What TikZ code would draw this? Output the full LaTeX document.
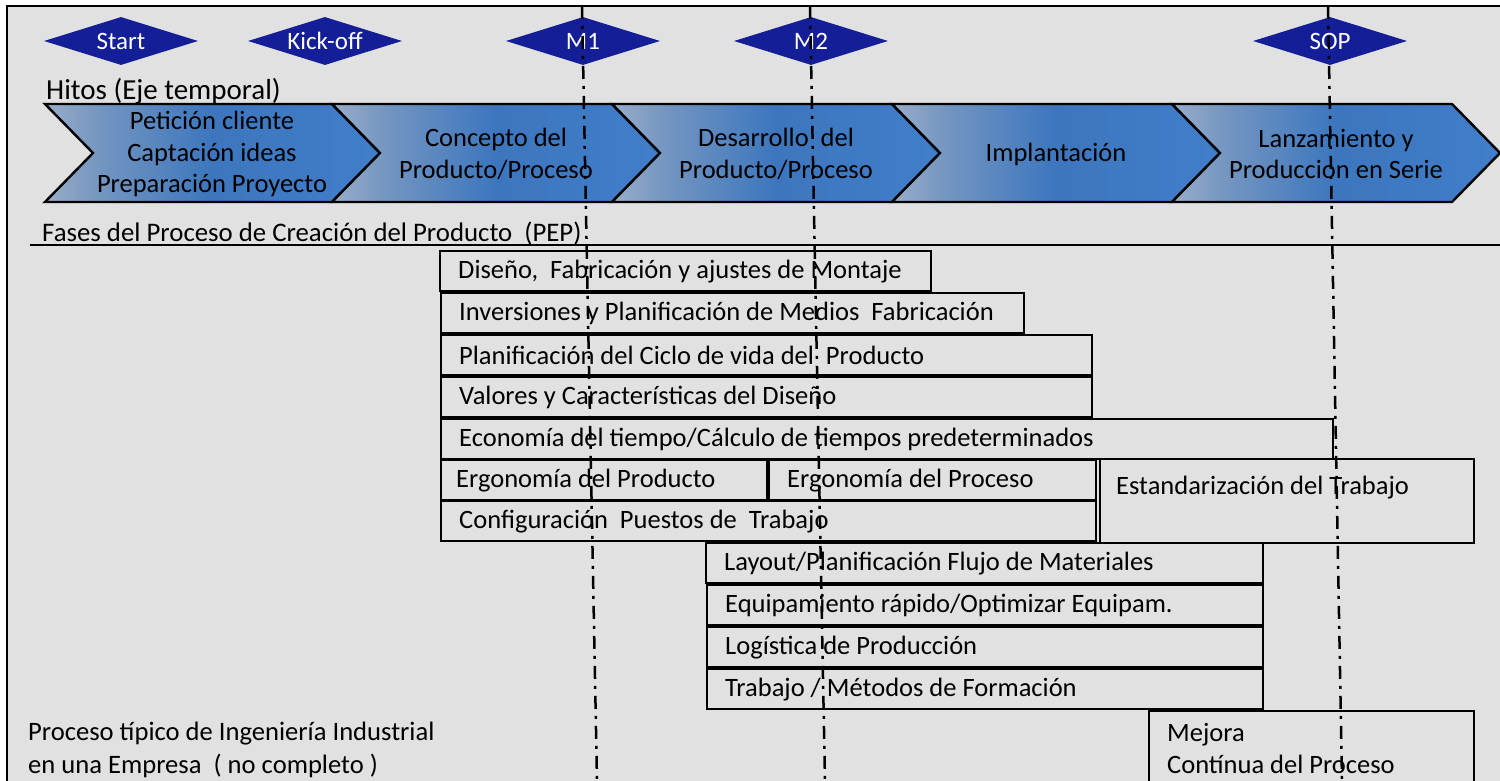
\documentclass[tikz,border=0pt]{standalone}
\usepackage{fontspec}
\setmainfont{Carlito}
\usetikzlibrary{shapes.geometric}
\definecolor{fondo}{RGB}{225,225,225}
\definecolor{hitoazul}{RGB}{20,30,150}
\definecolor{faseclaro}{RGB}{224,226,230}
\definecolor{faseclaro2}{RGB}{216,220,226}
\definecolor{fasegris}{RGB}{176,188,206}
\definecolor{fasegris2}{RGB}{116,150,192}
\definecolor{fasemedio}{RGB}{60,118,190}
\definecolor{faseder}{RGB}{70,134,214}
\pgfdeclarehorizontalshading{fase}{100bp}{color(0bp)=(faseclaro); color(8bp)=(faseclaro2); color(20bp)=(fasegris); color(33bp)=(fasegris2); color(50bp)=(fasemedio); color(100bp)=(faseder)}
\newcommand{\tareatxt}[1]{\mbox{\spaceskip=0pt\xspaceskip=0pt\relax #1}}

\begin{document}
\begin{tikzpicture}[x=1pt,y=-1pt,
    font=\fontsize{26.5}{31.5}\selectfont,
    hito/.style={diamond,fill=hitoazul,text=white,aspect=3.2,inner sep=0pt,%
      minimum width=154pt,minimum height=48pt,font=\fontsize{25}{30}\selectfont},
    fase/.style={align=center,inner sep=0pt},
    tarea/.style={draw,line width=2.4pt,anchor=north west,%
      inner xsep=18pt,inner ysep=0pt,minimum height=40pt},
    eje/.style={line width=2.5pt,dash pattern=on 13pt off 7pt on 3pt off 7pt}]
      \useasboundingbox (0,0) rectangle (1500,781) ;
      \clip (0,0) rectangle (1500,781) ;
      \draw[line width=2pt,fill=fondo] (7,6) rectangle (1530,800) ;
      \foreach \xa/\xb in {45/332,332/612,612/892,892/1172,1172/1452}
        \shadedraw[shading=fase,line width=2.4pt] (\xa,104) -- (\xb,104) -- %
        (\xb+48,153) -- (\xb,202) -- (\xa,202) -- (\xa+48,153) -- cycle ;
      \node[fase] (pet) at (212,154) {Petición cliente\\Captación ideas\\Preparación Proyecto} ;
      \node[fase] (con) at (496,154) {Concepto del\\Producto/Proceso} ;
      \node[fase] (des) at (776,154) {Desarrollo~ del\\Producto/Proceso} ;
      \node[fase] (imp) at (1056,154) {Implantación} ;
      \node[fase] (lan) at (1336,154) {Lanzamiento y\\Produccion en Serie} ;
      \node[hito] (start) at (121,41) {Start} ;
      \node[hito] (kick) at (325,41) {Kick-off} ;
      \node[hito] (m1) at (583,41) {M1} ;
      \node[hito] (m2) at (811,41) {M2} ;
      \node[hito] (sop) at (1330,41) {SOP} ;
      \node[anchor=base west,inner sep=0pt,font=\fontsize{29}{34}\selectfont] %
      (hitos) at (46,100) {Hitos (Eje temporal)} ;
      \node[anchor=base west,inner sep=0pt,font=\fontsize{26.8}{32}\selectfont] (fases) at (42,241) %
      {Fases del Proceso de Creación del Producto~ (PEP)} ;
      \draw[line width=2.4pt] (30,245) -- (1510,245) ;
      \node[tarea,text width=455pt] (dis) at (439,250) {\tareatxt{Diseño,~ Fabricación y ajustes de Montaje}} ;
      \node[tarea,text width=547pt] (inv) at (440,292) {\tareatxt{Inversiones y Planificación de Medios~ Fabricación}} ;
      \node[tarea,text width=615pt] (pla) at (440,334) {\tareatxt{Planificación del Ciclo de vida del~ Producto}} ;
      \node[tarea,text width=615pt] (val) at (440,376) {\tareatxt{Valores y Características del Diseño}} ;
      \node[tarea,text width=856pt] (eco) at (440,418) {\tareatxt{Economía del tiempo/Cálculo de tiempos predeterminados}} ;
      \node[tarea,inner xsep=15pt,text width=296pt] (erp) at (440,459) {\tareatxt{Ergonomía del Producto}} ;
      \node[tarea,text width=291pt] (erc) at (768,459) {\tareatxt{Ergonomía del Proceso}} ;
      \node[tarea,text width=619pt] (cfg) at (440,500) {\tareatxt{Configuración~ Puestos de~ Trabajo}} ;
      \node[tarea,text width=342pt,inner xsep=16pt,minimum height=84pt] (est) at (1099,458) %
      {\tareatxt{Estandarización del Trabajo}\\\mbox{}} ;
      \node[tarea,text width=521pt] (lay) at (705,542) {\tareatxt{Layout/Planificación Flujo de Materiales}} ;
      \node[tarea,text width=520pt] (equ) at (706,584) {\tareatxt{Equipamiento rápido/Optimizar Equipam.}} ;
      \node[tarea,text width=520pt] (log) at (706,626) {\tareatxt{Logística de Producción}} ;
      \node[tarea,text width=520pt] (tra) at (706,668) {\tareatxt{Trabajo / Métodos de Formación}} ;
      \node[tarea,text width=289pt,minimum height=75pt] (mej) at (1148,710) %
      {\tareatxt{Mejora}\\\tareatxt{Contínua del Proceso}} ;
      \node[anchor=west,align=left,inner sep=0pt,font=\fontsize{26.6}{33}\selectfont] %
      (nota) at (28,750) {Proceso típico de Ingeniería Industrial\\en una Empresa~ ( no completo )} ;
      \coordinate (m1a) at (582,6) ;
      \coordinate (m1b) at (597,781) ;
      \coordinate (m2a) at (810,6) ;
      \coordinate (m2b) at (825,781) ;
      \coordinate (sopa) at (1328,6) ;
      \coordinate (sopb) at (1342,781) ;
      \draw[eje] (m1a) -- (m1b) ;
      \draw[eje] (m2a) -- (m2b) ;
      \draw[eje] (sopa) -- (sopb) ;
\end{tikzpicture}
\end{document}
